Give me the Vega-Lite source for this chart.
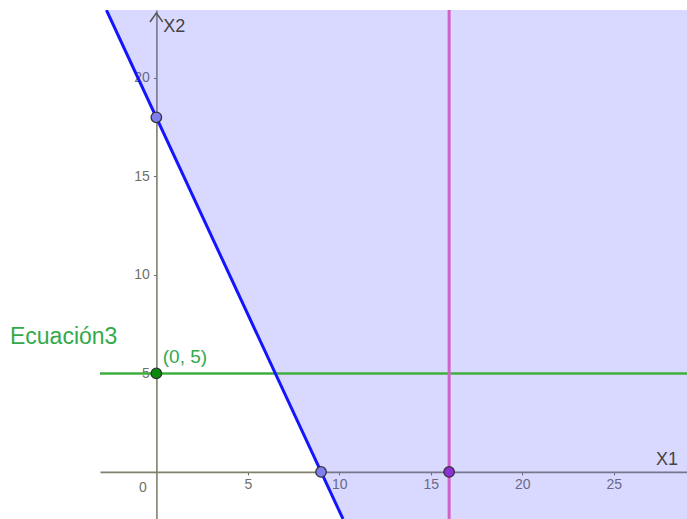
{
  "$schema": "https://vega.github.io/schema/vega-lite/v6.json",
  "width": 587,
  "height": 509,
  "autosize": {"type": "none"},
  "padding": {"left": 100, "top": 10, "right": 0, "bottom": 0},
  "background": "white",
  "config": {
    "view": {"stroke": null},
    "font": "Liberation Sans",
    "axis": {
      "grid": false,
      "title": null,
      "domainColor": "#80806c",
      "domainWidth": 1.6,
      "tickColor": "#6a6a6a",
      "tickSize": 3,
      "labelColor": "#707066",
      "labelFont": "Liberation Sans",
      "labelFontSize": 14,
      "zindex": 0
    }
  },
  "layer": [
    {
      "data": {"values": [{"y": -2.39, "x": 10.2, "xr": 29.0}, {"y": 23.45, "x": -2.73, "xr": 29.0}]},
      "mark": {"type": "area", "orient": "horizontal", "color": "#5050ff", "opacity": 0.22, "clip": true},
      "encoding": {
        "y": {"field": "y", "type": "quantitative", "scale": {"domain": [-2.39, 23.45], "nice": false, "zero": false},
          "axis": {"values": [5, 10, 15, 20], "offset": -56.4, "labelPadding": 4}},
        "x": {"field": "x", "type": "quantitative", "scale": {"domain": [-3.08, 29.0], "nice": false, "zero": false},
          "axis": {"values": [5, 10, 15, 20, 25], "offset": -47.1, "labelPadding": 3}},
        "x2": {"field": "xr"}
      }
    },
    {
      "data": {"values": [{"x": -0.35, "y": 22.84}, {"x": 0, "y": 23.3}, {"x": 0.35, "y": 22.84}]},
      "mark": {"type": "line", "color": "#555555", "strokeWidth": 1.5, "clip": true},
      "encoding": {
        "x": {"field": "x", "type": "quantitative"},
        "y": {"field": "y", "type": "quantitative"},
        "order": {"field": "x", "type": "quantitative"}
      }
    },
    {
      "data": {"values": [{"y": 5}]},
      "mark": {"type": "rule", "color": "#3fae3f", "strokeWidth": 2.5, "clip": true},
      "encoding": {"y": {"field": "y", "type": "quantitative"}}
    },
    {
      "data": {"values": [{"x": 16}]},
      "mark": {"type": "rule", "color": "#d062c8", "strokeWidth": 3, "clip": true},
      "encoding": {"x": {"field": "x", "type": "quantitative"}}
    },
    {
      "data": {"values": [{"x": -2.73, "y": 23.45}, {"x": 10.2, "y": -2.39}]},
      "mark": {"type": "line", "color": "#1414ff", "strokeWidth": 3, "clip": true},
      "encoding": {
        "x": {"field": "x", "type": "quantitative"},
        "y": {"field": "y", "type": "quantitative"}
      }
    },
    {
      "data": {"values": [
        {"x": 0, "y": 18, "pt": "A"},
        {"x": 9, "y": 0, "pt": "B"},
        {"x": 16, "y": 0, "pt": "C"},
        {"x": 0, "y": 5, "pt": "D"}
      ]},
      "mark": {"type": "point", "filled": true, "size": 110, "opacity": 1, "stroke": "#333333", "strokeWidth": 1.3},
      "encoding": {
        "x": {"field": "x", "type": "quantitative"},
        "y": {"field": "y", "type": "quantitative"},
        "fill": {"field": "pt", "type": "nominal", "legend": null,
          "scale": {"domain": ["A", "B", "C", "D"], "range": ["#7f7ff2", "#7f7ff2", "#8f2fd8", "#0a8a0a"]}}
      }
    },
    {
      "data": {"values": [
        {"x": 0.35, "y": 5.85, "t": "(0, 5)", "k": "g"},
        {"x": -8.0, "y": 6.85, "t": "Ecuación3", "k": "e"}
      ]},
      "mark": {"type": "text", "align": "left", "baseline": "middle", "color": "#33aa4a"},
      "encoding": {
        "x": {"field": "x", "type": "quantitative"},
        "y": {"field": "y", "type": "quantitative"},
        "text": {"field": "t"},
        "size": {"field": "k", "type": "nominal", "legend": null, "scale": {"domain": ["g", "e"], "range": [19, 23]}}
      }
    },
    {
      "data": {"values": [
        {"x": 0.37, "y": 22.6, "t": "X2"},
        {"x": 27.3, "y": 0.6, "t": "X1"}
      ]},
      "mark": {"type": "text", "align": "left", "baseline": "middle", "color": "#444444", "fontSize": 18},
      "encoding": {
        "x": {"field": "x", "type": "quantitative"},
        "y": {"field": "y", "type": "quantitative"},
        "text": {"field": "t"}
      }
    },
    {
      "data": {"values": [{"x": -0.73, "y": -0.8, "t": "0"}]},
      "mark": {"type": "text", "align": "center", "baseline": "middle", "color": "#707066", "fontSize": 14},
      "encoding": {
        "x": {"field": "x", "type": "quantitative"},
        "y": {"field": "y", "type": "quantitative"},
        "text": {"field": "t"}
      }
    }
  ]
}
